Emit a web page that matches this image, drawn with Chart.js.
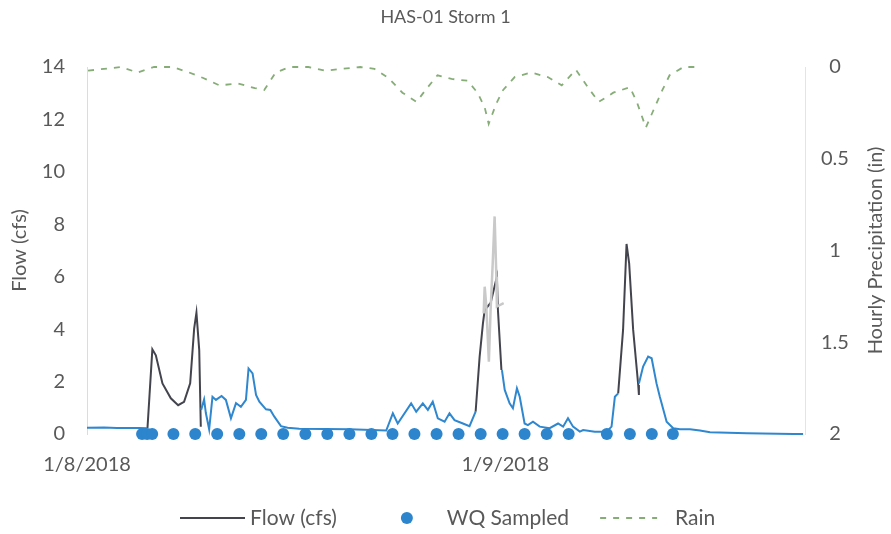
<!DOCTYPE html>
<html>
<head>
<meta charset="utf-8">
<script src="https://cdn.jsdelivr.net/npm/chart.js@4/dist/chart.umd.min.js"></script>
<style>
  html, body { margin: 0; padding: 0; background: #fff; }
  #wrap { width: 891px; height: 534px; }
</style>
</head>
<body>
<div id="wrap"><canvas id="storm-chart" width="891" height="534"></canvas></div>
<script>
/*********************************  Data  *********************************/
// x values are hours after 1/8/2018 00:00
var xTickHours = [0, 24];
var xTickLabels = ['1/8/2018', '1/9/2018'];
var xMaxHours = 41.2;
var rainTickValues = [0, 0.5, 1, 1.5, 2];
var rainTickLabels = ['0', '0.5', '1', '1.5', '2'];

// Flow (cfs) - dark line, peaks only (null = gap)
var flowHours = [3.47, 3.75, 3.95, 4.33, 4.81, 5.23, 5.57, 5.92, 6.15, 6.28, 6.44, 6.53,
                 14,
                 22.3, 22.53, 22.72, 22.82, 23.16, 23.52, 23.58, 23.78, 23.81,
                 27,
                 30.48, 30.76, 30.96, 31.11, 31.34, 31.63, 31.67];
var flowCfs = [0.22, 3.23, 3.0, 1.93, 1.36, 1.1, 1.23, 1.93, 4.03, 4.63, 3.2, 0.28,
               null,
               0.85, 2.95, 4.22, 4.73, 5.0, 6.0, 4.73, 2.44, 2.44,
               null,
               1.55, 3.97, 7.25, 6.51, 3.97, 1.87, 1.49];

// second flow record - blue line
var flowBlueHours = [0, 0.98, 1.72, 2.99, 3.45,
                     5,
                     6.55, 6.72, 6.82, 7.01, 7.2, 7.4, 7.72, 7.97, 8.26, 8.55, 8.83, 9.12, 9.27, 9.5,
                     9.7, 9.89, 10.27, 10.52, 10.75, 11.13, 11.51, 12.18, 15.06, 17.17, 17.55, 17.83,
                     18.6, 18.89, 19.27, 19.56, 19.84, 20.13, 20.52, 20.8, 21.09, 21.57, 21.95, 22.3,
                     23,
                     23.81, 23.97, 24.25, 24.44, 24.67, 24.83, 25.11, 25.3, 25.59, 25.98, 26.55, 27.03,
                     27.32, 27.6, 27.89, 28.28, 28.47, 29.14, 29.81, 30.1, 30.29, 30.48,
                     31,
                     31.67, 31.91, 32.2, 32.4, 32.68, 32.87, 33.26, 33.64, 34.02, 34.6, 35.17, 35.75,
                     37.86, 40.53, 41.09];
var flowBlueCfs = [0.24, 0.25, 0.23, 0.23, 0.22,
                   null,
                   0.92, 1.32, 0.8, 0.18, 1.42, 1.3, 1.45, 1.3, 0.6, 1.18, 1.04, 1.3, 2.5, 2.31,
                   1.49, 1.23, 0.94, 0.92, 0.66, 0.3, 0.24, 0.2, 0.18, 0.13, 0.79, 0.4,
                   1.17, 0.85, 1.17, 0.92, 1.23, 0.6, 0.47, 0.79, 0.53, 0.4, 0.3, 0.85,
                   null,
                   2.44, 1.68, 1.17, 0.98, 1.74, 1.42, 0.4, 0.34, 0.47, 0.28, 0.22, 0.4,
                   0.28, 0.6, 0.28, 0.09, 0.15, 0.09, 0.09, 0.28, 1.42, 1.55,
                   null,
                   1.93, 2.57, 2.95, 2.89, 1.93, 1.42, 0.47, 0.22, 0.18, 0.18, 0.13, 0.07,
                   0.03, 0.0, 0.0];

// light grey spike near 1/9
var flowGrayHours = [22.76, 22.82, 22.91, 23.06, 23.16, 23.28, 23.39, 23.49, 23.52, 23.91];
var flowGrayCfs = [4.6, 5.62, 4.9, 2.76, 4.73, 6.5, 8.3, 6.0, 4.86, 4.99];

// WQ samples
var sampleHours = [3.16, 3.45, 3.74, 4.96, 6.21, 7.47, 8.74, 10.0, 11.26, 12.53, 13.79, 15.06,
                   16.32, 17.53, 18.79, 20.06, 21.32, 22.59, 23.85, 25.11, 26.38, 27.64,
                   29.83, 31.15, 32.41, 33.62];

// Hourly precipitation (in)
var rainHours = [0.06, 1.95, 2.9, 3.85, 4.92, 5.86, 6.67, 7.59, 8.68, 9.63, 10.17, 10.83,
                 11.64, 12.7, 13.66, 14.6, 15.69, 16.49, 17.3, 18.1, 18.91, 19.43, 20.11, 20.92,
                 21.84, 22.41, 22.82, 23.05, 23.48, 23.88, 24.54, 25.49, 26.44, 27.24, 28.05,
                 28.85, 29.37, 30.2, 31.15, 31.55, 32.07, 32.62, 33.02, 33.43, 34.23, 35.17];
var rainIn = [0.02, 0, 0.03, 0, 0, 0.03, 0.06, 0.10, 0.09, 0.115, 0.125, 0.03,
              0, 0, 0.02, 0.01, 0, 0.01, 0.06, 0.14, 0.19, 0.125, 0.045, 0.065,
              0.075, 0.14, 0.22, 0.31, 0.20, 0.125, 0.055, 0.03, 0.055, 0.10, 0.015,
              0.125, 0.19, 0.14, 0.11, 0.19, 0.33, 0.21, 0.125, 0.045, 0, 0];

/********************************  Helpers  *******************************/
var textColor = '#595959';
var fontFamily = 'Lato, "Open Sans", sans-serif';

function toPoints(xs, ys) {
    var out = [];
    for (var i = 0; i < xs.length; i++) {
        out.push({x: xs[i], y: ys[i]});
    }
    return out;
}

function findDataset(chart, label) {
    return chart.data.datasets.filter(function(d) { return d.label === label; })[0];
}

// Secondary axis title reads bottom-to-top, like the left one
var rightTitlePlugin = {
    id: 'rightTitle',
    afterDraw: function(chart) {
        var ctx = chart.ctx, area = chart.chartArea;
        ctx.save();
        ctx.translate(876, (area.top + area.bottom) / 2);
        ctx.rotate(-Math.PI / 2);
        ctx.fillStyle = textColor;
        ctx.font = '20px ' + fontFamily;
        ctx.textAlign = 'center';
        ctx.textBaseline = 'middle';
        ctx.fillText('Hourly Precipitation (in)', 0, 0);
        ctx.restore();
    }
};

// Legend at the bottom: Flow, WQ Sampled, Rain
var bottomLegendPlugin = {
    id: 'bottomLegend',
    afterDraw: function(chart) {
        var ctx = chart.ctx;
        var y = 518;
        var flow = findDataset(chart, 'Flow (cfs)');
        var wq = findDataset(chart, 'WQ Sampled');
        var rain = findDataset(chart, 'Rain');
        ctx.save();
        ctx.font = '21px ' + fontFamily;
        ctx.textBaseline = 'middle';
        ctx.fillStyle = textColor;
        var x = 180;
        // Flow line
        ctx.strokeStyle = flow.borderColor;
        ctx.lineWidth = 2;
        ctx.beginPath(); ctx.moveTo(x, y); ctx.lineTo(x + 65, y); ctx.stroke();
        x += 70;
        ctx.fillText(flow.label, x, y);
        x += ctx.measureText(flow.label).width + 70;
        // WQ dot
        ctx.fillStyle = wq.backgroundColor;
        ctx.beginPath(); ctx.arc(x, y, 6, 0, Math.PI * 2); ctx.fill();
        x += 40;
        ctx.fillStyle = textColor;
        ctx.fillText(wq.label, x, y);
        x += ctx.measureText(wq.label).width + 31;
        // Rain dash
        ctx.strokeStyle = rain.borderColor;
        ctx.lineWidth = 2;
        ctx.setLineDash(rain.borderDash);
        ctx.beginPath(); ctx.moveTo(x, y); ctx.lineTo(x + 57, y); ctx.stroke();
        ctx.setLineDash([]);
        x += 75;
        ctx.fillText(rain.label, x, y);
        ctx.restore();
    }
};

/*********************************  Chart  ********************************/
var ctx = document.getElementById('storm-chart');
var stormChart = new Chart(ctx, {
    type: 'line',
    data: {
        datasets: [{
            label: 'WQ Sampled',
            data: toPoints(sampleHours, sampleHours.map(function() { return 0; })),
            showLine: false,
            pointRadius: 6,
            pointBorderWidth: 0,
            backgroundColor: '#2c85cd',
            borderColor: '#2c85cd',
            yAxisID: 'y',
            clip: false,
            order: 0
        }, {
            label: 'Flow (grey)',
            data: toPoints(flowGrayHours, flowGrayCfs),
            borderColor: '#c9c9c9',
            borderWidth: 2.5,
            pointRadius: 0,
            yAxisID: 'y',
            order: 1
        }, {
            label: 'Flow (blue)',
            data: toPoints(flowBlueHours, flowBlueCfs),
            borderColor: '#2f87cf',
            borderWidth: 2,
            pointRadius: 0,
            spanGaps: false,
            yAxisID: 'y',
            clip: false,
            order: 2
        }, {
            label: 'Flow (cfs)',
            data: toPoints(flowHours, flowCfs),
            borderColor: '#44444f',
            borderWidth: 2,
            pointRadius: 0,
            spanGaps: false,
            yAxisID: 'y',
            order: 3
        }, {
            label: 'Rain',
            data: toPoints(rainHours, rainIn),
            borderColor: '#86ad78',
            borderWidth: 1.8,
            borderDash: [6, 7],
            pointRadius: 0,
            yAxisID: 'y1',
            clip: false,
            order: 4
        }]
    },
    options: {
        responsive: false,
        animation: false,
        events: [],
        layout: { padding: 0 },
        plugins: {
            legend: { display: false },
            tooltip: { enabled: false },
            title: {
                display: true,
                text: 'HAS-01 Storm 1',
                color: textColor,
                font: { family: fontFamily, size: 18, weight: 'normal' },
                padding: { top: 6, bottom: 39.4 }
            }
        },
        scales: {
            x: {
                type: 'linear',
                min: 0,
                max: xMaxHours,
                grid: { display: false, drawTicks: false },
                border: { display: false },
                afterBuildTicks: function(scale) {
                    scale.ticks = xTickHours.map(function(v) { return {value: v}; });
                },
                afterFit: function(scale) { scale.height = 100; },
                ticks: {
                    autoSkip: false,
                    maxRotation: 0,
                    padding: 19,
                    color: textColor,
                    font: { family: fontFamily, size: 20 },
                    callback: function(value) {
                        var i = xTickHours.indexOf(value);
                        return i >= 0 ? xTickLabels[i] : '';
                    }
                }
            },
            y: {
                position: 'left',
                min: 0,
                max: 14,
                grid: { display: false, drawTicks: false },
                border: { display: true, color: '#dcdcdc', width: 1 },
                afterFit: function(scale) { scale.width = 87; },
                ticks: {
                    stepSize: 2,
                    padding: 22,
                    color: textColor,
                    font: { family: fontFamily, size: 20 }
                },
                title: {
                    display: true,
                    text: 'Flow (cfs)',
                    color: textColor,
                    padding: 8,
                    font: { family: fontFamily, size: 20 }
                }
            },
            y1: {
                position: 'right',
                min: 0,
                max: 2,
                reverse: true,
                grid: { display: false, drawTicks: false },
                border: { display: true, color: '#e4e4e4', width: 1 },
                afterFit: function(scale) { scale.width = 86; },
                ticks: {
                    stepSize: 0.5,
                    padding: 16,
                    crossAlign: 'center',
                    color: textColor,
                    font: { family: fontFamily, size: 20 },
                    callback: function(value) {
                        var i = rainTickValues.indexOf(value);
                        return i >= 0 ? rainTickLabels[i] : '';
                    }
                }
            }
        }
    },
    plugins: [rightTitlePlugin, bottomLegendPlugin]
});
</script>
</body>
</html>
